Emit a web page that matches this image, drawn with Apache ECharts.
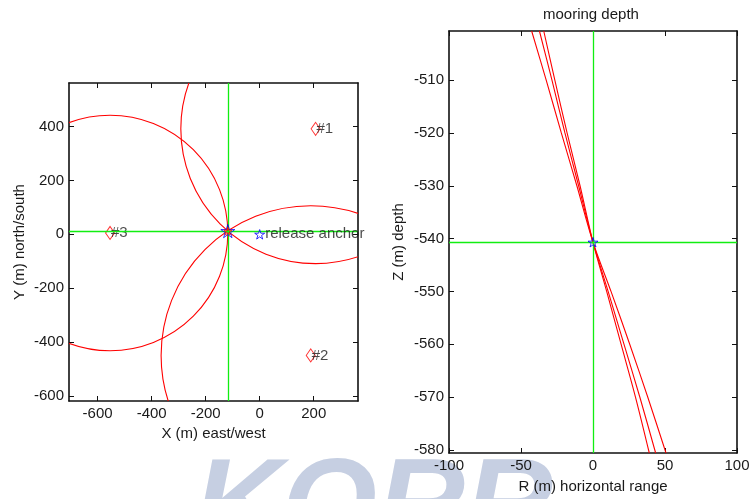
<!DOCTYPE html>
<html>
<head>
<meta charset="utf-8">
<script src="https://cdn.jsdelivr.net/npm/echarts@6/dist/echarts.min.js"></script>
<style>
html, body { margin: 0; padding: 0; background: #fff; }
#main { width: 753px; height: 499px; }
</style>
</head>
<body>
<div id="main"></div>
<script>
// plan view: transponders and horizontal range circles
const transponderX = [207, 189, -554];
const transponderY = [391, -449, 5];
const transponderName = ['#1', '#2', '#3'];
const horizRange = [499, 554, 436];

const fixX = [-118];
const fixY = [12];
const anchorX = [0];
const anchorY = [0];

const planXTicks = [-600, -400, -200, 0, 200];
const planYTicks = [-600, -400, -200, 0, 200, 400];

// depth view: range arcs in the R-Z plane
const depthZ = [-500.7, -510, -520, -530, -540.7, -550, -560, -570, -580.6];
const rayA = [-42.6, -32.5, -22, -11.2, 0, 12.5, 25.5, 38, 50.7];
const rayB = [-37.2, -28.5, -19.5, -10, 0, 10.5, 21.5, 32.5, 43.5];
const rayC = [-34.2, -26.5, -18, -9, 0, 9.5, 19.5, 29.5, 39.1];
const mooringR = [0];
const mooringZ = [-540.7];

const depthXTicks = [-100, -50, 0, 50, 100];
const depthYTicks = [-580, -570, -560, -550, -540, -530, -520, -510];

const FONT = '"Liberation Sans", Arial, sans-serif';
const STAR = 'path://M50,0 L61,35 L98,35 L68,57 L79,91 L50,70 L21,91 L32,57 L2,35 L39,35 Z';
const GREEN = '#11ee11';

var myChart = echarts.init(document.getElementById('main'));

function axis(grid, min, max, pos, ticks, showLabel, extra) {
    var a = {
        gridIndex: grid,
        type: 'value',
        min: min,
        max: max,
        position: pos,
        axisLine: { show: true, onZero: false, lineStyle: { color: '#111', width: 1.6 } },
        axisTick: { show: true, inside: true, length: 5, customValues: ticks, lineStyle: { color: '#111' } },
        axisLabel: { show: showLabel, customValues: ticks, fontSize: 15, fontFamily: FONT, color: '#1a1a1a', margin: 5 },
        splitLine: { show: false }
    };
    return Object.assign(a, extra || {});
}

function nameStyle() {
    return { fontSize: 15, fontFamily: FONT, color: '#1a1a1a' };
}

function cross(x, y) {
    return {
        silent: true,
        symbol: 'none',
        label: { show: false },
        lineStyle: { color: GREEN, width: 1.3, type: 'solid' },
        data: [{ xAxis: x }, { yAxis: y }]
    };
}

function ray(arr) {
    return {
        type: 'line',
        xAxisIndex: 2,
        yAxisIndex: 2,
        data: depthZ.map(function (z, i) { return [arr[i], z]; }),
        symbol: 'none',
        smooth: 0.3,
        lineStyle: { color: '#ff0000', width: 1.1 },
        z: 3
    };
}

var option = {
    animation: false,
    backgroundColor: '#fff',
    grid: [
        { left: 69, top: 83, width: 289, height: 318 },
        { left: 449, top: 31, width: 288, height: 422 }
    ],
    xAxis: [
        axis(0, -706, 364, 'bottom', planXTicks, true, {
            name: 'X (m) east/west', nameLocation: 'middle', nameGap: 25, nameTextStyle: nameStyle()
        }),
        axis(0, -706, 364, 'top', planXTicks, false),
        axis(1, -100, 100, 'bottom', depthXTicks, true, {
            name: 'R (m) horizontal range', nameLocation: 'middle', nameGap: 26, nameTextStyle: nameStyle()
        }),
        axis(1, -100, 100, 'top', depthXTicks, false)
    ],
    yAxis: [
        axis(0, -618, 561, 'left', planYTicks, true, {
            name: 'Y (m) north/south', nameLocation: 'middle', nameGap: 42, nameTextStyle: nameStyle()
        }),
        axis(0, -618, 561, 'right', planYTicks, false),
        axis(1, -580.6, -500.7, 'left', depthYTicks, true, {
            name: 'Z (m) depth', nameLocation: 'middle', nameGap: 43, nameTextStyle: nameStyle()
        }),
        axis(1, -580.6, -500.7, 'right', depthYTicks, false)
    ],
    graphic: [
        {
            type: 'text', left: 593 - 50, top: 7, z: 10,
            style: { text: 'mooring depth', font: '15px ' + FONT, fill: '#1a1a1a' }
        },
        {
            type: 'text', x: 194, y: 449, z: -100,
            style: { text: 'KORR', font: 'italic bold 122px ' + FONT, fill: '#c6cfe2' }
        }
    ],
    series: [
        {
            type: 'custom',
            xAxisIndex: 0,
            yAxisIndex: 0,
            data: transponderX.map(function (x, i) { return [x, transponderY[i], horizRange[i]]; }),
            renderItem: function (params, api) {
                var c = api.coord([api.value(0), api.value(1)]);
                var r = api.size([api.value(2), 0])[0];
                var cs = params.coordSys;
                return {
                    type: 'circle',
                    shape: { cx: c[0], cy: c[1], r: r },
                    style: { fill: 'none', stroke: '#ff0000', lineWidth: 1.1 },
                    clipPath: { type: 'rect', shape: { x: cs.x, y: cs.y, width: cs.width, height: cs.height } }
                };
            },
            silent: true,
            z: 2
        },
        {
            type: 'scatter',
            xAxisIndex: 0,
            yAxisIndex: 0,
            data: transponderX.map(function (x, i) { return { value: [x, transponderY[i]], name: transponderName[i] }; }),
            symbol: 'diamond',
            symbolSize: [9, 13],
            itemStyle: { color: 'rgba(0,0,0,0)', borderColor: '#ff0000', borderWidth: 1 },
            label: { show: true, formatter: '{b}', position: 'right', distance: -4, fontSize: 15, fontFamily: FONT, color: '#1a1a1a' },
            z: 4
        },
        {
            type: 'scatter',
            xAxisIndex: 0,
            yAxisIndex: 0,
            data: fixX.map(function (x, i) { return [x, fixY[i]]; }),
            symbol: STAR,
            symbolKeepAspect: true,
            symbolSize: 14,
            itemStyle: { color: 'rgba(0,0,0,0)', borderColor: '#0000ff', borderWidth: 1 },
            markLine: cross(fixX[0], fixY[0]),
            z: 5
        },
        {
            type: 'scatter',
            xAxisIndex: 0,
            yAxisIndex: 0,
            data: fixX.map(function (x, i) { return [x, fixY[i]]; }),
            symbol: STAR,
            symbolKeepAspect: true,
            symbolSize: 8,
            itemStyle: { color: 'rgba(0,0,0,0)', borderColor: '#ff0000', borderWidth: 1 },
            z: 6
        },
        {
            type: 'scatter',
            xAxisIndex: 0,
            yAxisIndex: 0,
            data: anchorX.map(function (x, i) { return { value: [x, anchorY[i]], name: 'release anchor' }; }),
            symbol: STAR,
            symbolKeepAspect: true,
            symbolSize: 10,
            itemStyle: { color: 'rgba(0,0,0,0)', borderColor: '#0000ff', borderWidth: 1 },
            label: { show: true, formatter: '{b}', position: 'right', distance: 0, fontSize: 15, fontFamily: FONT, color: '#1a1a1a' },
            z: 5
        },
        ray(rayA),
        ray(rayB),
        ray(rayC),
        {
            type: 'scatter',
            xAxisIndex: 2,
            yAxisIndex: 2,
            data: mooringR.map(function (r, i) { return [r, mooringZ[i]]; }),
            symbol: STAR,
            symbolKeepAspect: true,
            symbolSize: 10,
            itemStyle: { color: 'rgba(0,0,0,0)', borderColor: '#0000ff', borderWidth: 1 },
            markLine: cross(mooringR[0], mooringZ[0]),
            z: 5
        }
    ]
};

myChart.setOption(option);
</script>
</body>
</html>
